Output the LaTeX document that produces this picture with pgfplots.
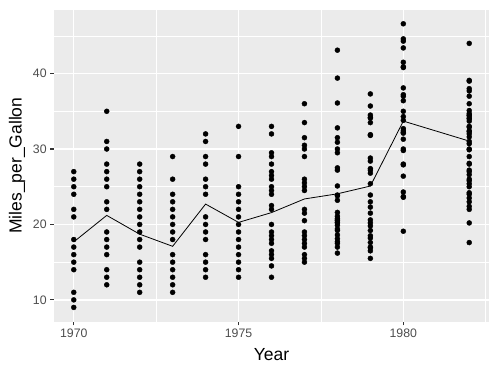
\documentclass[border=0pt]{standalone}
\usepackage{pgfplots}
\pgfplotsset{compat=1.18}
\usepackage{fontspec}
\setmainfont{Liberation Sans}
\definecolor{ggbg}{HTML}{EBEBEB}
\definecolor{ggtick}{HTML}{333333}
\definecolor{ggtext}{HTML}{4D4D4D}
\begin{document}
\begin{tikzpicture}
\begin{axis}[
  at={(0,0)}, anchor=south west,
  scale only axis, width=435pt, height=312pt,
  xmin=1969.4, xmax=1982.6, ymin=7.12, ymax=48.48,
  axis background/.style={fill=ggbg},
  axis line style={draw=none},
  xtick={1970,1975,1980}, xticklabels={1970,1975,1980},
  ytick={10,20,30,40},
  minor xtick={1972.5,1977.5,1982.5},
  minor ytick={15,25,35,45},
  xtick pos=bottom, ytick pos=left,
  grid=both,
  major grid style={white, line width=1.3pt},
  minor grid style={white, line width=0.65pt},
  tick align=outside,
  major tick length=3.8pt, minor tick length=0pt,
  every tick/.style={ggtick, line width=1.2pt},
  tick label style={font=\fontsize{12.3}{14}\selectfont, text=ggtext},
  /pgf/number format/assume math mode=true,
  xlabel={Year}, ylabel={Miles\_per\_Gallon},
  label style={font=\fontsize{17.5}{20}\selectfont},
  xlabel style={at={(axis description cs:0.5,-0.107)}, anchor=center},
  ylabel style={at={(axis description cs:-0.085,0.5)}, anchor=center},
]
\addplot[only marks, mark=*, mark size=2.5pt, black] coordinates {
(1970,9)(1970,10)(1970,11)(1970,14)(1970,15)(1970,16)(1970,17)(1970,18)(1970,21)(1970,22)(1970,24)(1970,25)(1970,26)(1970,27)
(1971,12)(1971,13)(1971,14)(1971,16)(1971,17)(1971,18)(1971,19)(1971,22)(1971,23)(1971,25)(1971,26)(1971,27)(1971,28)(1971,30)(1971,31)(1971,35)
(1972,11)(1972,12)(1972,13)(1972,14)(1972,15)(1972,17)(1972,18)(1972,19)(1972,20)(1972,21)(1972,22)(1972,23)(1972,24)(1972,25)(1972,26)(1972,27)(1972,28)
(1973,11)(1973,12)(1973,13)(1973,14)(1973,15)(1973,16)(1973,18)(1973,19)(1973,20)(1973,21)(1973,22)(1973,23)(1973,24)(1973,26)(1973,29)
(1974,13)(1974,14)(1974,15)(1974,16)(1974,18)(1974,19)(1974,20)(1974,21)(1974,24)(1974,25)(1974,26)(1974,28)(1974,29)(1974,31)(1974,32)
(1975,13)(1975,14)(1975,15)(1975,16)(1975,17)(1975,18)(1975,19)(1975,20)(1975,21)(1975,22)(1975,23)(1975,24)(1975,25)(1975,29)(1975,33)
(1976,13)(1976,14.5)(1976,15.5)(1976,16)(1976,16.5)(1976,17.5)(1976,18)(1976,18.5)(1976,19)(1976,20)(1976,22)(1976,22.5)(1976,24)(1976,24.5)(1976,25)(1976,26)(1976,26.5)(1976,27)(1976,28)(1976,29)(1976,29.5)(1976,32)(1976,33)
(1977,15)(1977,15.5)(1977,16)(1977,17)(1977,17.5)(1977,18)(1977,18.5)(1977,19)(1977,20.5)(1977,21.5)(1977,22)(1977,24.5)(1977,25)(1977,25.5)(1977,26)(1977,29)(1977,30)(1977,30.5)(1977,31.5)(1977,33.5)(1977,36)
(1978,43.1)(1978,36.1)(1978,32.8)(1978,39.4)(1978,19.9)(1978,19.4)(1978,20.2)(1978,19.2)(1978,20.5)(1978,25.1)(1978,20.6)(1978,20.8)(1978,18.6)(1978,18.1)(1978,17.7)(1978,17.5)(1978,30)(1978,27.5)(1978,27.2)(1978,30.9)(1978,21.1)(1978,23.2)(1978,23.8)(1978,23.9)(1978,20.3)(1978,17)(1978,21.6)(1978,16.2)(1978,31.5)(1978,29.5)
(1979,21.5)(1979,19.8)(1979,22.3)(1979,20.2)(1979,20.6)(1979,17)(1979,17.6)(1979,16.5)(1979,18.2)(1979,16.9)(1979,15.5)(1979,19.2)(1979,18.5)(1979,31.9)(1979,34.1)(1979,35.7)(1979,27.4)(1979,25.4)(1979,23)(1979,27.2)(1979,23.9)(1979,34.2)(1979,34.5)(1979,31.8)(1979,37.3)(1979,28.4)(1979,28.8)(1979,26.8)(1979,33.5)
(1980,41.5)(1980,38.1)(1980,32.1)(1980,37.2)(1980,28)(1980,26.4)(1980,24.3)(1980,19.1)(1980,34.3)(1980,29.8)(1980,31.3)(1980,37)(1980,32.2)(1980,46.6)(1980,27.9)(1980,40.8)(1980,44.3)(1980,43.4)(1980,36.4)(1980,30)(1980,44.6)(1980,40.9)(1980,33.8)(1980,32.7)(1980,23.7)(1980,35)(1980,23.6)(1980,32.4)
(1982,27.2)(1982,26.6)(1982,25.8)(1982,23.5)(1982,30)(1982,39.1)(1982,39)(1982,35.1)(1982,32.3)(1982,37)(1982,37.7)(1982,34.1)(1982,34.7)(1982,34.4)(1982,29.9)(1982,33)(1982,34.5)(1982,33.7)(1982,32.4)(1982,32.9)(1982,31.6)(1982,28.1)(1982,30.7)(1982,25.4)(1982,24.2)(1982,22.4)(1982,20.2)(1982,17.6)(1982,28)(1982,27)(1982,34)(1982,31)(1982,29)(1982,24)(1982,23)(1982,36)(1982,38)(1982,32)(1982,25)(1982,26)(1982,22)(1982,44)
};
\addplot[black, line width=0.8pt, mark=none] coordinates {
(1970,17.69)(1971,21.2)(1972,18.71)(1973,17.10)(1974,22.70)(1975,20.27)(1976,21.57)(1977,23.38)(1978,24.06)(1979,25.09)(1980,33.70)(1982,31.05)
};
\end{axis}
\pgfresetboundingbox
\path[use as bounding box] (-54pt,-53.4pt) rectangle (446pt,321.6pt);
\end{tikzpicture}
\end{document}
